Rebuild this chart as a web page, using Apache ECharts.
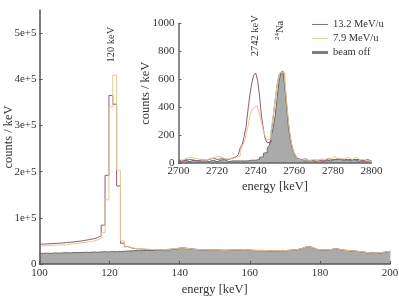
<!DOCTYPE html>
<html><head><meta charset="utf-8">
<script src="https://cdn.jsdelivr.net/npm/echarts@6/dist/echarts.min.js"></script>
<style>html,body{margin:0;padding:0;background:#fff}#c{width:399px;height:299px}</style>
</head><body><div id="c"></div><script>
// ---------- data ----------
// main spectrum: bins of 1.1 keV starting at 100 keV, values in thousands of counts/keV
const mainBinStart = 100, mainBinWidth = 1.1;
const mainXTicks = [100, 120, 140, 160, 180, 200];
const mainYTickValues = [0, 100, 200, 300, 400, 500];
const mainYTickLabels = ['0', '1e+5', '2e+5', '3e+5', '4e+5', '5e+5'];
const main13 = [43,43.5,44,44.5,45,45.5,46.5,47,48,49,50,51.5,53,54.5,57,61,84,192,365,346,169,45,37.5,34.5,33,32.5,32,31.5,31,
  31,30.5,31,31.5,32,33,34,35,34.5,33,32.5,31.5,31,31,30.5,30.5,30.5,30,30,30,30.5,31,30.5,30,30.5,30,29.5,29.5,29.5,29,29,29,29,29.5,29,
  30,30.5,31.5,33.5,36.5,37.5,35.5,32,31,31,30.5,32,33,31.5,30,29.5,28.5,28,27,26,25,24.5,24,24,25,26.5,27.5];
const main79 = [39,39.5,40,40.5,41,41.5,42,43,44,45,46,47,48.5,50,52,56,68,139,340,409,203,50,38.5,35,33.5,33,32.5,32,31.5,
  31,30.5,31,31.5,32,33,34,34.5,34,33,32,31.5,30.5,31,30.5,30,30.5,30,29.5,30,30.5,31,30.5,30,30.5,30,29.5,29,29.5,29,28.5,29,28.5,29.5,29,
  30,30.5,31.5,33.5,36.5,37,35.5,31.5,30.5,31,30.5,32,33,31.5,30,29.5,28.5,28,27,26,25,24,23.5,24,25,26.5,27.5];
const mainOff = [23,23.5,23,24,23.5,24,24.5,24,25,24.5,25,25.5,25,26,25.5,26,26.5,26,27,26.5,27,27.5,28,28.5,29,28.5,29,29.5,29,
  30,29.5,30,30.5,31,32,33,34,33.5,32.5,31.5,31,30,30.5,30,29.5,30,29.5,29,29.5,30,30.5,30,29.5,30,29.5,29,28.5,29,28.5,28,28.5,28,29,28.5,
  29.5,30,31,33,36,37,35,31,30,30.5,30,31.5,32.5,31,29.5,29,28,27.5,26.5,25.5,24.5,23.5,23,23.5,24.5,26,27];

// inset spectrum: 1 keV bins from 2700 keV, counts/keV
const insetBinStart = 2700, insetBinWidth = 1;
const insetXTicks = [2700, 2720, 2740, 2760, 2780, 2800];
const insetYTicks = [0, 200, 400, 600, 800, 1000];
const inset13 = [20,15,25,20,15,25,30,20,25,15, 20,25,15,20,30,25,20,35,30,25, 35,30,25,30,35,25,30,35,40,45,
  50,60,110,130,190,260,380,490,575,630, 645,590,480,335,240,170,145,150,220,320, 440,550,630,650,645,590,430,280,180,110,
  70,45,30,25,20,30,20,15,25,20, 15,20,25,20,15,20,25,30,20,25, 30,25,35,30,25,20,30,25,20,25, 30,25,20,25,20,15,20,25,20,15];
const inset79 = [25,20,15,30,35,40,30,35,40,30, 20,25,15,20,25,30,25,35,40,45, 40,45,35,30,35,30,25,30,35,40,
  45,50,80,120,150,200,260,340,380,400, 410,395,350,290,230,190,165,170,230,330, 440,550,630,650,650,600,440,290,180,110,
  60,40,25,20,25,30,20,15,20,25, 20,15,25,30,20,25,30,35,25,30, 40,50,35,30,25,30,35,40,30,25, 35,40,30,25,20,25,20,15,20,15];
const insetOff = [10,15,25,30,15,10,15,20,10,15, 20,15,10,15,20,10,15,20,15,10, 15,20,15,25,15,10,20,15,10,15,
  20,15,10,15,20,15,10,20,15,20, 20,25,40,45,70,75,110,125,185,250, 330,450,575,645,660,560,400,250,160,100,
  55,35,25,20,15,25,15,10,20,15, 10,15,20,15,10,15,20,25,15,20, 25,20,30,25,20,15,25,20,15,20, 25,20,15,20,15,10,15,20,15,10];

const seriesNames = ['13.2 MeV/u', '7.9 MeV/u', 'beam off'];
const annotations = [
  {text: '120 keV', grid: 0, at: [120.4, 475]},
  {text: '2742 keV', grid: 1, at: [2739.6, 912]},
];

// ---------- helpers ----------
function steps(start, width, vals) {
  const d = vals.map((v, i) => [start + i * width, v]);
  d.push([start + vals.length * width, vals[vals.length - 1]]);
  return d;
}
const FONT = 'Liberation Serif, Times New Roman, serif';
const TXT = '#333';
const AX = '#555';
const C13 = '#935876', C79 = '#e0ca96', COFF_LINE = '#6a6a6a', COFF_FILL = '#aaaaaa';
const plain = v => String(v);

function lineSeries(name, data, xi, color, z, area) {
  const s = {
    name, type: 'line', step: 'end', xAxisIndex: xi, yAxisIndex: xi,
    data, showSymbol: false, symbol: 'none', z,
    lineStyle: {color, width: 1}, itemStyle: {color},
    emphasis: {disabled: true}
  };
  if (area) { s.areaStyle = {color: COFF_FILL, opacity: 1}; s.itemStyle = {color: COFF_LINE}; }
  return s;
}

const chart = echarts.init(document.getElementById('c'), null, {renderer: 'canvas'});
const axisCommon = {
  axisLine: {lineStyle: {color: AX, width: 1.5}},
  axisTick: {inside: true, length: 3, lineStyle: {color: AX}},
  splitLine: {show: false},
  nameLocation: 'middle',
  nameMoveOverlap: false,
  nameTextStyle: {fontFamily: FONT, fontSize: 12.5, color: TXT},
  z: 5
};
chart.setOption({
  animation: false,
  backgroundColor: '#fff',
  grid: [
    {left: 39.5, right: 9, top: 10, bottom: 35, containLabel: false, outerBoundsMode: 'none'},
    {left: 178.5, right: 27.5, top: 23.5, bottom: 136, containLabel: false, outerBoundsMode: 'none'}
  ],
  xAxis: [
    Object.assign({}, axisCommon, {
      type: 'value', gridIndex: 0, min: 100, max: 200, interval: 20,
      name: 'energy [keV]', nameGap: 19,
      axisLabel: {margin: 4, color: TXT, fontFamily: FONT, fontSize: 11, customValues: mainXTicks, formatter: plain},
      axisTick: {inside: true, length: 3, lineStyle: {color: AX}, customValues: mainXTicks}
    }),
    Object.assign({}, axisCommon, {
      type: 'value', gridIndex: 1, min: 2700, max: 2800, interval: 20,
      name: 'energy [keV]', nameGap: 17,
      axisLine: {lineStyle: {color: '#666', width: 1.5}},
      axisLabel: {margin: 3, color: TXT, fontFamily: FONT, fontSize: 11, customValues: insetXTicks, formatter: plain},
      axisTick: {show: false}
    })
  ],
  yAxis: [
    Object.assign({}, axisCommon, {
      type: 'value', gridIndex: 0, min: 0, max: 550,
      name: 'counts / keV', nameGap: 24,
      axisLabel: {margin: 3, color: TXT, fontFamily: FONT, fontSize: 11, customValues: mainYTickValues,
        formatter: v => mainYTickLabels[mainYTickValues.indexOf(v)] || ''},
      axisTick: {inside: true, length: 3, lineStyle: {color: AX}, customValues: mainYTickValues}
    }),
    Object.assign({}, axisCommon, {
      type: 'value', gridIndex: 1, min: 0, max: 1000, interval: 200,
      name: 'counts / keV', nameGap: 26,
      axisLine: {lineStyle: {color: '#666', width: 1.5}},
      axisLabel: {margin: 4, color: TXT, fontFamily: FONT, fontSize: 11, customValues: insetYTicks, formatter: plain},
      axisTick: {inside: true, length: 3, lineStyle: {color: '#666'}, customValues: insetYTicks}
    })
  ],
  legend: {
    orient: 'vertical', left: 307, top: 13, itemWidth: 16, itemHeight: 3, itemGap: 1,
    selectedMode: false,
    textStyle: {fontFamily: FONT, fontSize: 10.5, color: TXT, lineHeight: 13},
    data: [
      {name: seriesNames[0], icon: 'path://M0,0H17V1H0Z', itemStyle: {color: C13}},
      {name: seriesNames[1], icon: 'path://M0,0H17V1H0Z', itemStyle: {color: C79}},
      {name: seriesNames[2], icon: 'path://M0,0H17V3H0Z', itemStyle: {color: '#777'}}
    ]
  },
  series: [
    lineSeries(seriesNames[2], steps(mainBinStart, mainBinWidth, mainOff), 0, COFF_LINE, 2, true),
    lineSeries(seriesNames[0], steps(mainBinStart, mainBinWidth, main13), 0, C13, 3),
    lineSeries(seriesNames[1], steps(mainBinStart, mainBinWidth, main79), 0, C79, 4),
    lineSeries(seriesNames[2], steps(insetBinStart, insetBinWidth, insetOff), 1, COFF_LINE, 2, true),
    lineSeries(seriesNames[0], steps(insetBinStart, insetBinWidth, inset13), 1, C13, 3),
    lineSeries(seriesNames[1], steps(insetBinStart, insetBinWidth, inset79), 1, C79, 4)
  ]
});

// rotated peak annotations placed through the axes
const gfx = annotations.map(a => {
  const p = chart.convertToPixel({xAxisIndex: a.grid, yAxisIndex: a.grid}, a.at);
  return {type: 'text', x: p[0], y: p[1], rotation: Math.PI / 2, z: 10,
    style: {text: a.text, fontFamily: FONT, fontSize: 10.5, fill: TXT, align: 'center', verticalAlign: 'middle'}};
});
const naPos = chart.convertToPixel({xAxisIndex: 1, yAxisIndex: 1}, [2752.6, 950]);
gfx.push({type: 'text', x: naPos[0], y: naPos[1], rotation: Math.PI / 2, z: 10,
  style: {text: '{s|24}{n|Na}', align: 'center', verticalAlign: 'middle', fill: TXT,
    rich: {s: {fontFamily: FONT, fontSize: 7, fill: TXT, verticalAlign: 'top', lineHeight: 12},
           n: {fontFamily: FONT, fontSize: 10.5, fill: TXT, verticalAlign: 'bottom', lineHeight: 12}}}});
chart.setOption({graphic: gfx});
</script></body></html>
